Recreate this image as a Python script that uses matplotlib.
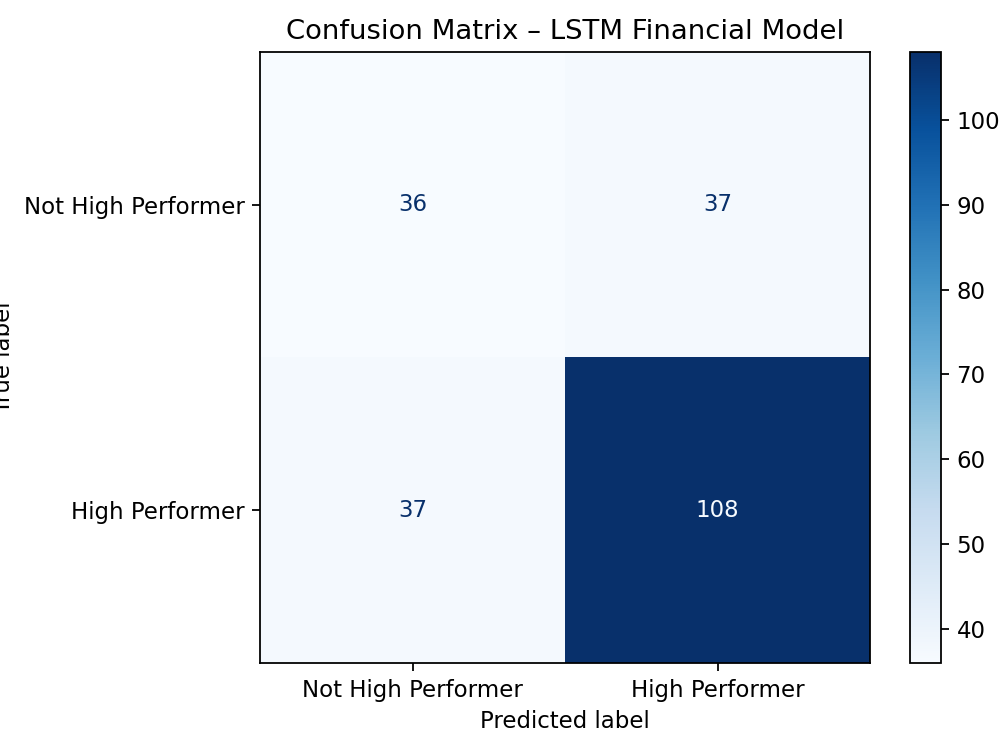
import numpy as np
import matplotlib
matplotlib.use("Agg")
import matplotlib.pyplot as plt

class_labels = ["Not High Performer", "High Performer"]
cm = np.array([[36, 37],
               [37, 108]])

DPI = 160
plt.rcParams["font.size"] = 10.3
fig = plt.figure(figsize=(1000 / DPI, 750 / DPI), dpi=DPI)
W, H = 1000, 750
ax = fig.add_axes([260 / W, 1 - 663 / H, (870 - 260) / W, (663 - 52) / H])
cax = fig.add_axes([910 / W, 1 - 663 / H, (941 - 910) / W, (663 - 52) / H])

cmap = plt.get_cmap("Blues")
im = ax.imshow(cm, interpolation="nearest", cmap=cmap, aspect="auto")
fig.colorbar(im, cax=cax)

thresh = (cm.max() + cm.min()) / 2.0
cmap_min, cmap_max = cmap(0), cmap(1.0)
for i in range(cm.shape[0]):
    for j in range(cm.shape[1]):
        color = cmap_max if cm[i, j] < thresh else cmap_min
        ax.text(j, i, format(cm[i, j], "d"), ha="center", va="center", color=color)

ax.set_xticks(np.arange(len(class_labels)), labels=class_labels)
ax.set_yticks(np.arange(len(class_labels)), labels=class_labels)
ax.set_xlabel("Predicted label")
ax.set_ylabel("True label")
ax.set_ylim(len(class_labels) - 0.5, -0.5)
ax.set_title("Confusion Matrix \u2013 LSTM Financial Model")

fig.savefig("out.png", dpi=DPI)
